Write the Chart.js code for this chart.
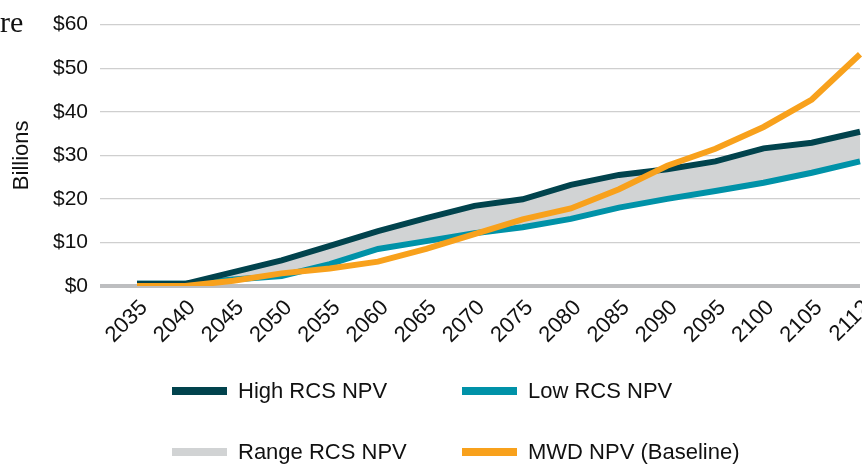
<!DOCTYPE html>
<html>
<head>
<meta charset="utf-8">
<script src="https://cdn.jsdelivr.net/npm/chart.js@4/dist/chart.umd.min.js"></script>
<style>
  html, body { margin: 0; padding: 0; background: #fff; }
  #wrap { position: relative; width: 862px; height: 466px; overflow: hidden; background: #fff; }
  #c { position: absolute; left: 0; top: 0; }
  #frag { position: absolute; left: 0; top: 4px; font-family: "Liberation Serif", serif; font-size: 30px; color: #111; line-height: 36px; }
  .lg { position: absolute; font-family: "Liberation Sans", Arial, sans-serif; font-size: 22px; color: #111; white-space: nowrap; line-height: 26px; }
  .sw { position: absolute; width: 55px; height: 8px; }
</style>
</head>
<body>
<div id="wrap">
  <canvas id="c" width="880" height="466"></canvas>
  <div id="frag">re</div>
  <div id="legend"></div>
</div>
<script>
// ---- data ----
const years = ['2035','2040','2045','2050','2055','2060','2065','2070','2075','2080','2085','2090','2095','2100','2105','2112'];
const highRCS = [0.5, 0.5, 3.2, 5.9, 9.2, 12.6, 15.6, 18.4, 19.9, 23.2, 25.5, 26.8, 28.6, 31.6, 32.9, 35.4];
const lowRCS  = [0.5, 0.5, 1.5, 2.3, 5.0, 8.5, 10.3, 12.1, 13.5, 15.4, 18.0, 20.0, 21.8, 23.7, 26.0, 28.6];
const mwdNPV  = [0.0, 0.0, 1.2, 2.9, 4.0, 5.6, 8.5, 11.9, 15.3, 17.8, 22.2, 27.6, 31.5, 36.5, 42.8, 53.2];
const yTicks  = [0, 10, 20, 30, 40, 50, 60];
const seriesNames = ['High RCS NPV', 'Low RCS NPV', 'Range RCS NPV', 'MWD NPV (Baseline)'];
const seriesColors = ['#01434d', '#0092a8', '#d1d3d4', '#f8a11c'];

Chart.defaults.font.family = '"Liberation Sans", Arial, sans-serif';
Chart.defaults.color = '#111';

const lineCommon = { pointRadius: 0, pointHoverRadius: 0, tension: 0, borderWidth: 6, borderCapStyle: 'butt', borderJoinStyle: 'miter', fill: false };

const chart = new Chart(document.getElementById('c'), {
  type: 'line',
  data: {
    labels: years,
    datasets: [
      Object.assign({}, lineCommon, { label: seriesNames[0], data: highRCS, borderColor: seriesColors[0], backgroundColor: seriesColors[0], order: 1 }),
      Object.assign({}, lineCommon, { label: seriesNames[1], data: lowRCS, borderColor: seriesColors[1], backgroundColor: seriesColors[1], order: 2 }),
      Object.assign({}, lineCommon, { label: seriesNames[2], data: highRCS, borderWidth: 0, borderColor: 'rgba(0,0,0,0)', backgroundColor: seriesColors[2], fill: 1, order: 3 }),
      Object.assign({}, lineCommon, { label: seriesNames[3], data: mwdNPV, borderColor: seriesColors[3], backgroundColor: seriesColors[3], order: 0 })
    ]
  },
  options: {
    responsive: false,
    animation: false,
    devicePixelRatio: 1,
    layout: { padding: { top: 22, right: 20, bottom: 100, left: 0 } },
    plugins: { legend: { display: false }, tooltip: { enabled: false } },
    scales: {
      x: {
        type: 'category',
        offset: false,
        grid: { display: false, drawTicks: false },
        border: { display: false },
        ticks: { font: { size: 22 }, color: '#111', minRotation: 45, maxRotation: 45, padding: 9, labelOffset: 7, autoSkip: false },
        afterFit: (s) => { s.height = 80; s.paddingLeft = 0; s.paddingRight = 0; }
      },
      y: {
        min: 0, max: 60,
        afterBuildTicks: (s) => { s.ticks = yTicks.map(v => ({ value: v })); },
        grid: {
          color: (c) => c.tick && c.tick.value === 0 ? '#bdbec0' : '#cfcfcf',
          lineWidth: (c) => c.tick && c.tick.value === 0 ? 4 : 1.2,
          tickLength: 37,
          drawTicks: true
        },
        border: { display: false },
        ticks: { font: { size: 21 }, color: '#111', padding: 12, callback: (v) => '$' + v },
        title: { display: true, text: 'Billions', font: { size: 22 }, color: '#111', padding: { top: 9, bottom: 0 } },
        afterFit: (s) => { s.width = 137; }
      }
    }
  }
});

// legend built from the chart's datasets, laid out in two columns
const legendPos = [ [172, 391], [462, 391], [172, 452], [462, 452] ];
const legendEl = document.getElementById('legend');
chart.data.datasets.forEach((ds, i) => {
  const [x, y] = legendPos[i];
  const sw = document.createElement('div');
  sw.className = 'sw';
  sw.style.left = x + 'px'; sw.style.top = (y - 4) + 'px';
  sw.style.background = ds.backgroundColor;
  legendEl.appendChild(sw);
  const t = document.createElement('div');
  t.className = 'lg';
  t.textContent = ds.label;
  t.style.left = (x + 66) + 'px'; t.style.top = (y - 13) + 'px';
  legendEl.appendChild(t);
});
</script>
</body>
</html>
